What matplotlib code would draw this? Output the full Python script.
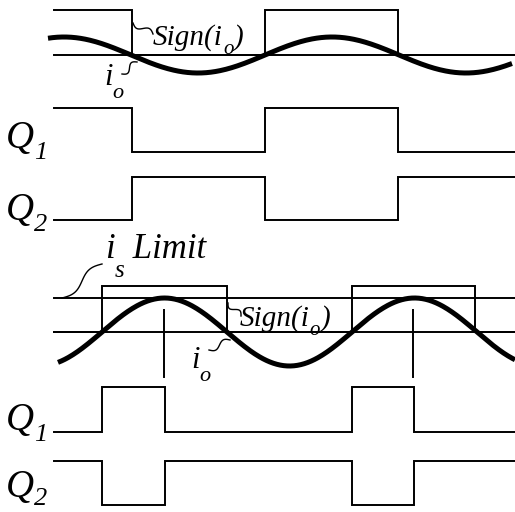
import numpy as np
import matplotlib.pyplot as plt

# time span of the traces (same scale as the drawing, px)
t_start = 54
t_end = 515

# --- upper diagram: plain sign(i_o) switching ---
top_edges = [132, 265, 398]          # switching instants
top_sign_start = 1                   # sign(i_o) starts high
top_io_amp = 18
top_io_period = 268
top_io_rise = 265                    # rising zero crossing of i_o
top_io_span = (48, 512)

# --- lower diagram: i_s limit switching ---
bot_sign_edges = [102, 227, 352, 475]
bot_sign_start = 0
bot_q1_edges = [102, 165, 352, 414]
bot_q1_start = 0
bot_io_amp = 34
bot_io_period = 250
bot_io_rise = 102
bot_io_span = (58, 515)
bot_peaks = [164, 413]               # marker lines at the i_o peaks

# lane levels (high, low) in drawing units
lanes = {
    'top_sign': (10, 55),
    'top_q1': (108, 152),
    'top_q2': (177, 220),
    'bot_sign': (286, 332),
    'bot_q1': (387, 432),
    'bot_q2': (461, 505),
}
bot_limit = 298

thin = 1.4
thick = 3.6
font = dict(family='Liberation Serif', style='italic', color='black')


def square(ax, edges, start, lane, lw=thin):
    hi, lo = lanes[lane]
    t = [t_start] + list(edges) + [t_end]
    state = start
    xs, ys = [], []
    for i in range(len(t) - 1):
        lvl = hi if state else lo
        xs += [t[i], t[i + 1]]
        ys += [lvl, lvl]
        state = 1 - state
    ax.plot(xs, ys, color='black', lw=lw, solid_joinstyle='miter')


def sine(ax, amp, period, rise, span, center):
    x = np.linspace(span[0], span[1], 400)
    y = center - amp * np.sin(2 * np.pi * (x - rise) / period)
    ax.plot(x, y, color='black', lw=thick, solid_capstyle='butt')


def squiggle(ax, p0, p1, a=3.0):
    s = np.linspace(0, 1, 40)
    p0 = np.array(p0, float)
    p1 = np.array(p1, float)
    d = p1 - p0
    n = np.array([-d[1], d[0]]) / np.hypot(*d)
    pts = p0[None, :] + s[:, None] * d[None, :] + n[None, :] * (a * np.sin(2 * np.pi * s))[:, None]
    ax.plot(pts[:, 0], pts[:, 1], color='black', lw=1.0)


def label(ax, x, y, main, sub, size, subsize, drop, tail=None):
    t = ax.text(x, y, main, fontsize=size, va='baseline', **font)
    s = ax.annotate(sub, xy=(1, y + drop), xycoords=(t, 'data'),
                    fontsize=subsize, va='baseline', **font)
    if tail:
        ax.annotate(tail, xy=(1, y), xycoords=(s, 'data'),
                    fontsize=size, va='baseline', **font)


fig = plt.figure(figsize=(5.15, 5.12), dpi=100)
ax = fig.add_axes([0, 0, 1, 1])
ax.set_xlim(0, 515)
ax.set_ylim(512, 0)
ax.axis('off')

# upper diagram
ax.plot([t_start, t_end], [lanes['top_sign'][1]] * 2, color='black', lw=thin)
square(ax, top_edges, top_sign_start, 'top_sign')
sine(ax, top_io_amp, top_io_period, top_io_rise, top_io_span, lanes['top_sign'][1])
square(ax, top_edges, top_sign_start, 'top_q1')
square(ax, top_edges, 1 - top_sign_start, 'top_q2')

# lower diagram
ax.plot([t_start, t_end], [bot_limit] * 2, color='black', lw=thin)
ax.plot([t_start, t_end], [lanes['bot_sign'][1]] * 2, color='black', lw=thin)
square(ax, bot_sign_edges, bot_sign_start, 'bot_sign')
sine(ax, bot_io_amp, bot_io_period, bot_io_rise, bot_io_span, lanes['bot_sign'][1])
for xp in bot_peaks:
    ax.plot([xp, xp], [310, 377], color='black', lw=thin)
square(ax, bot_q1_edges, bot_q1_start, 'bot_q1')
square(ax, bot_q1_edges, 1 - bot_q1_start, 'bot_q2')

# labels
qs, qsub = 28, 19
label(ax, 6, 148, 'Q', '1', qs, qsub, 11)
label(ax, 6, 220, 'Q', '2', qs, qsub, 11)
label(ax, 6, 430, 'Q', '1', qs, qsub, 11)
label(ax, 6, 497, 'Q', '2', qs, qsub, 8)

label(ax, 153, 45, 'Sign(i', 'o', 21, 15, 9, ')')
squiggle(ax, (133, 23), (153, 34))
label(ax, 104, 85, 'i', 'o', 22, 16, 13)
squiggle(ax, (122, 74), (137, 62))

label(ax, 105, 258, 'i', 's', 25, 18, 19, ' Limit')
squiggle(ax, (62, 298), (102, 264), a=4)
label(ax, 240, 326, 'Sign(i', 'o', 21, 15, 9, ')')
squiggle(ax, (228, 303), (241, 316))
label(ax, 191, 368, 'i', 'o', 22, 16, 13)
squiggle(ax, (209, 350), (230, 340))

fig.savefig('out.png', dpi=100)
